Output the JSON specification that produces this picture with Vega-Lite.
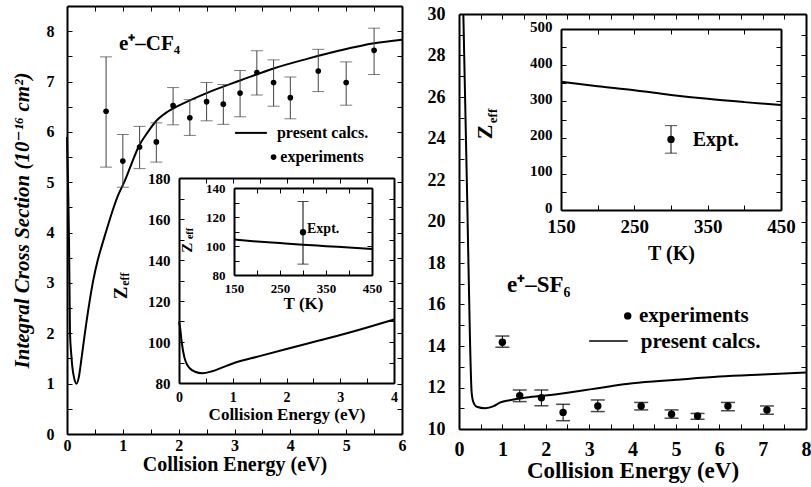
{
  "$schema": "https://vega.github.io/schema/vega-lite/v6.json",
  "width": 811,
  "height": 487,
  "autosize": {"type": "none"},
  "padding": 0,
  "background": "white",
  "config": {
    "view": {"stroke": null},
    "font": "Liberation Serif",
    "axis": {
      "grid": false, "domainColor": "black", "domainWidth": 2, "tickColor": "black", "tickWidth": 1, "tickSize": -5,
      "labelColor": "black", "titleColor": "black", "labelFont": "Liberation Serif", "titleFont": "Liberation Serif",
      "labelFontWeight": "bold", "titleFontWeight": "bold", "labelFlush": false, "labelOverlap": false,
      "minExtent": 0, "maxExtent": 400, "labelBound": false
    },
    "text": {"font": "Liberation Serif", "fontWeight": "bold", "color": "black"}
  },
  "datasets": {
    "cf4_curve": [
      {"E": 0.0, "sigma": 5.9}, {"E": 0.02, "sigma": 4.9}, {"E": 0.036, "sigma": 3.85}, {"E": 0.045, "sigma": 2.9},
      {"E": 0.054, "sigma": 2.0}, {"E": 0.075, "sigma": 1.6}, {"E": 0.095, "sigma": 1.34}, {"E": 0.13, "sigma": 1.1},
      {"E": 0.17, "sigma": 1.0}, {"E": 0.21, "sigma": 1.12}, {"E": 0.26, "sigma": 1.5}, {"E": 0.32, "sigma": 2.0},
      {"E": 0.4, "sigma": 2.6}, {"E": 0.47, "sigma": 3.05}, {"E": 0.55, "sigma": 3.45}, {"E": 0.6, "sigma": 3.65},
      {"E": 0.7, "sigma": 4.02}, {"E": 0.8, "sigma": 4.38}, {"E": 0.9, "sigma": 4.7}, {"E": 1.04, "sigma": 5.04},
      {"E": 1.15, "sigma": 5.35}, {"E": 1.28, "sigma": 5.7}, {"E": 1.45, "sigma": 6.0}, {"E": 1.61, "sigma": 6.23},
      {"E": 1.8, "sigma": 6.4}, {"E": 2.0, "sigma": 6.52}, {"E": 2.5, "sigma": 6.77}, {"E": 3.1, "sigma": 7.02},
      {"E": 3.7, "sigma": 7.26}, {"E": 4.3, "sigma": 7.45}, {"E": 4.9, "sigma": 7.62}, {"E": 5.5, "sigma": 7.76},
      {"E": 6.0, "sigma": 7.83}
    ],
    "cf4_exp": [
      {"E": 0.7, "sigma": 6.41, "lo": 5.3, "hi": 7.49},
      {"E": 1.0, "sigma": 5.42, "lo": 4.9, "hi": 5.95},
      {"E": 1.3, "sigma": 5.7, "lo": 5.27, "hi": 6.11},
      {"E": 1.6, "sigma": 5.8, "lo": 5.4, "hi": 6.18},
      {"E": 1.9, "sigma": 6.52, "lo": 6.14, "hi": 6.88},
      {"E": 2.2, "sigma": 6.28, "lo": 5.93, "hi": 6.64},
      {"E": 2.5, "sigma": 6.6, "lo": 6.22, "hi": 6.98},
      {"E": 2.8, "sigma": 6.55, "lo": 6.15, "hi": 6.94},
      {"E": 3.1, "sigma": 6.77, "lo": 6.3, "hi": 7.22},
      {"E": 3.4, "sigma": 7.18, "lo": 6.73, "hi": 7.61},
      {"E": 3.7, "sigma": 6.98, "lo": 6.51, "hi": 7.43},
      {"E": 4.0, "sigma": 6.68, "lo": 6.26, "hi": 7.09},
      {"E": 4.5, "sigma": 7.21, "lo": 6.8, "hi": 7.64},
      {"E": 5.0, "sigma": 6.98, "lo": 6.53, "hi": 7.39},
      {"E": 5.5, "sigma": 7.62, "lo": 7.14, "hi": 8.06}
    ],
    "cf4_zeff_E": [
      {"E": 0.0, "zeff": 110}, {"E": 0.02, "zeff": 107}, {"E": 0.05, "zeff": 100}, {"E": 0.1, "zeff": 92.5},
      {"E": 0.15, "zeff": 89}, {"E": 0.2, "zeff": 87.2}, {"E": 0.3, "zeff": 85.5}, {"E": 0.43, "zeff": 84.8},
      {"E": 0.6, "zeff": 85.6}, {"E": 0.8, "zeff": 87.5}, {"E": 1.0, "zeff": 89.5}, {"E": 1.5, "zeff": 93.1},
      {"E": 2.0, "zeff": 96.6}, {"E": 2.5, "zeff": 100}, {"E": 3.0, "zeff": 103.4}, {"E": 3.5, "zeff": 107.1},
      {"E": 4.0, "zeff": 111}
    ],
    "cf4_zeff_T": [
      {"T": 150, "zeff": 104.4}, {"T": 200, "zeff": 103.1}, {"T": 250, "zeff": 102}, {"T": 300, "zeff": 100.9},
      {"T": 350, "zeff": 99.9}, {"T": 400, "zeff": 98.9}, {"T": 450, "zeff": 97.9}
    ],
    "cf4_zeff_T_exp": [{"T": 300, "zeff": 109.5, "lo": 87.5, "hi": 130.7}],
    "sf6_curve": [
      {"E": 0.1, "sigma": 30}, {"E": 0.14, "sigma": 26}, {"E": 0.19, "sigma": 21}, {"E": 0.25, "sigma": 14.6},
      {"E": 0.29, "sigma": 11.8}, {"E": 0.33, "sigma": 11.3}, {"E": 0.41, "sigma": 11.07}, {"E": 0.6, "sigma": 11.0},
      {"E": 0.8, "sigma": 11.1}, {"E": 0.94, "sigma": 11.27}, {"E": 1.2, "sigma": 11.4}, {"E": 1.5, "sigma": 11.5},
      {"E": 1.94, "sigma": 11.6}, {"E": 2.5, "sigma": 11.75}, {"E": 3.02, "sigma": 11.91}, {"E": 3.5, "sigma": 12.06},
      {"E": 4.0, "sigma": 12.2}, {"E": 5.0, "sigma": 12.37}, {"E": 6.0, "sigma": 12.53}, {"E": 7.0, "sigma": 12.63},
      {"E": 8.0, "sigma": 12.72}
    ],
    "sf6_exp": [
      {"E": 1.0, "sigma": 14.18, "lo": 13.94, "hi": 14.48},
      {"E": 1.4, "sigma": 11.61, "lo": 11.32, "hi": 11.88},
      {"E": 1.9, "sigma": 11.51, "lo": 11.12, "hi": 11.88},
      {"E": 2.4, "sigma": 10.8, "lo": 10.4, "hi": 11.19},
      {"E": 3.2, "sigma": 11.11, "lo": 10.84, "hi": 11.4},
      {"E": 4.2, "sigma": 11.11, "lo": 10.92, "hi": 11.28},
      {"E": 4.9, "sigma": 10.71, "lo": 10.52, "hi": 10.92},
      {"E": 5.5, "sigma": 10.63, "lo": 10.47, "hi": 10.75},
      {"E": 6.2, "sigma": 11.11, "lo": 10.88, "hi": 11.28},
      {"E": 7.1, "sigma": 10.92, "lo": 10.71, "hi": 11.11}
    ],
    "sf6_zeff_T": [
      {"T": 150, "zeff": 354}, {"T": 200, "zeff": 342}, {"T": 250, "zeff": 331}, {"T": 300, "zeff": 318},
      {"T": 350, "zeff": 307}, {"T": 400, "zeff": 298}, {"T": 450, "zeff": 290}
    ],
    "sf6_zeff_T_exp": [{"T": 300, "zeff": 195, "lo": 157, "hi": 233}]
  },
  "resolve": {"scale": {"x": "independent", "y": "independent"}, "axis": {"x": "independent", "y": "independent"}},
  "layer": [
    {
      "resolve": {"axis": {"x": "independent", "y": "independent"}},
      "layer": [
        {
          "data": {"name": "cf4_curve"},
          "mark": {"type": "line", "interpolate": "monotone", "color": "black", "strokeWidth": 2},
          "encoding": {
            "x": {"field": "E", "type": "quantitative", "scale": {"domain": [0, 6], "range": [67, 402], "nice": false, "zero": false},
              "axis": {"orient": "bottom", "offset": -53, "values": [0,0.5,1,1.5,2,2.5,3,3.5,4,4.5,5,5.5,6], "labelExpr": "datum.value % 1 === 0 ? format(datum.value, 'd') : ''", "labelFontSize": 16, "labelPadding": 8, "title": "Collision Energy (eV)", "titleFontSize": 20, "titlePadding": 1}},
            "y": {"field": "sigma", "type": "quantitative", "scale": {"domain": [0, 8.5], "range": [434, 6], "nice": false, "zero": false},
              "axis": {"orient": "left", "offset": -67, "values": [0,0.5,1,1.5,2,2.5,3,3.5,4,4.5,5,5.5,6,6.5,7,7.5,8], "labelExpr": "datum.value % 1 === 0 ? format(datum.value, 'd') : ''", "labelFontSize": 16, "labelPadding": 18, "title": "Integral Cross Section (10⁻¹⁶ cm²)", "titleFont": "Liberation Serif, DejaVu Serif", "titleFontSize": 21, "titleFontStyle": "italic", "titlePadding": 14}}
          }
        },
        {
          "data": {"name": "cf4_exp"},
          "mark": {"type": "rule", "color": "#444", "strokeWidth": 1},
          "encoding": {
            "x": {"field": "E", "type": "quantitative", "scale": {"domain": [0, 6], "range": [67, 402], "nice": false, "zero": false},
              "axis": {"orient": "top", "offset": -6, "values": [0,0.5,1,1.5,2,2.5,3,3.5,4,4.5,5,5.5,6], "labels": false, "title": null}},
            "y": {"field": "lo", "type": "quantitative", "scale": {"domain": [0, 8.5], "range": [434, 6], "nice": false, "zero": false},
              "axis": {"orient": "right", "offset": -409, "values": [0,0.5,1,1.5,2,2.5,3,3.5,4,4.5,5,5.5,6,6.5,7,7.5,8], "labels": false, "title": null}},
            "y2": {"field": "hi"}
          }
        },
        {
          "data": {"name": "cf4_exp"},
          "mark": {"type": "tick", "orient": "horizontal", "size": 12, "thickness": 1, "color": "#444"},
          "encoding": {
            "x": {"field": "E", "type": "quantitative", "scale": {"domain": [0, 6], "range": [67, 402], "nice": false, "zero": false}, "axis": null},
            "y": {"field": "hi", "type": "quantitative", "scale": {"domain": [0, 8.5], "range": [434, 6], "nice": false, "zero": false}, "axis": null}
          }
        },
        {
          "data": {"name": "cf4_exp"},
          "mark": {"type": "tick", "orient": "horizontal", "size": 12, "thickness": 1, "color": "#444"},
          "encoding": {
            "x": {"field": "E", "type": "quantitative", "scale": {"domain": [0, 6], "range": [67, 402], "nice": false, "zero": false}, "axis": null},
            "y": {"field": "lo", "type": "quantitative", "scale": {"domain": [0, 8.5], "range": [434, 6], "nice": false, "zero": false}, "axis": null}
          }
        },
        {
          "data": {"name": "cf4_exp"},
          "mark": {"type": "point", "filled": true, "size": 32, "color": "black", "opacity": 1},
          "encoding": {
            "x": {"field": "E", "type": "quantitative", "scale": {"domain": [0, 6], "range": [67, 402], "nice": false, "zero": false}, "axis": null},
            "y": {"field": "sigma", "type": "quantitative", "scale": {"domain": [0, 8.5], "range": [434, 6], "nice": false, "zero": false}, "axis": null}
          }
        },
        {
          "data": {"values": [{}]},
          "mark": {"type": "text", "text": "e⁺–CF₄", "fontSize": 21, "align": "left", "baseline": "alphabetic"},
          "encoding": {
            "x": {"datum": 0.93, "type": "quantitative", "scale": {"domain": [0, 6], "range": [67, 402], "nice": false, "zero": false}, "axis": null},
            "y": {"datum": 7.63, "type": "quantitative", "scale": {"domain": [0, 8.5], "range": [434, 6], "nice": false, "zero": false}, "axis": null}
          }
        },
        {
          "data": {"values": [{}]},
          "mark": {"type": "rule", "color": "black", "strokeWidth": 2},
          "encoding": {
            "x": {"datum": 3.01, "type": "quantitative", "scale": {"domain": [0, 6], "range": [67, 402], "nice": false, "zero": false}, "axis": null},
            "x2": {"datum": 3.58},
            "y": {"datum": 5.98, "type": "quantitative", "scale": {"domain": [0, 8.5], "range": [434, 6], "nice": false, "zero": false}, "axis": null}
          }
        },
        {
          "data": {"values": [{}]},
          "mark": {"type": "text", "text": "present calcs.", "fontSize": 16, "align": "left", "baseline": "middle"},
          "encoding": {
            "x": {"datum": 3.76, "type": "quantitative", "scale": {"domain": [0, 6], "range": [67, 402], "nice": false, "zero": false}, "axis": null},
            "y": {"datum": 5.98, "type": "quantitative", "scale": {"domain": [0, 8.5], "range": [434, 6], "nice": false, "zero": false}, "axis": null}
          }
        },
        {
          "data": {"values": [{}]},
          "mark": {"type": "point", "filled": true, "size": 32, "color": "black", "opacity": 1},
          "encoding": {
            "x": {"datum": 3.7, "type": "quantitative", "scale": {"domain": [0, 6], "range": [67, 402], "nice": false, "zero": false}, "axis": null},
            "y": {"datum": 5.5, "type": "quantitative", "scale": {"domain": [0, 8.5], "range": [434, 6], "nice": false, "zero": false}, "axis": null}
          }
        },
        {
          "data": {"values": [{}]},
          "mark": {"type": "text", "text": "experiments", "fontSize": 16, "align": "left", "baseline": "middle"},
          "encoding": {
            "x": {"datum": 3.82, "type": "quantitative", "scale": {"domain": [0, 6], "range": [67, 402], "nice": false, "zero": false}, "axis": null},
            "y": {"datum": 5.5, "type": "quantitative", "scale": {"domain": [0, 8.5], "range": [434, 6], "nice": false, "zero": false}, "axis": null}
          }
        }
      ]
    },
    {
      "resolve": {"axis": {"x": "independent", "y": "independent"}},
      "layer": [
        {
          "data": {"name": "cf4_zeff_E"},
          "mark": {"type": "line", "interpolate": "monotone", "color": "black", "strokeWidth": 2},
          "encoding": {
            "x": {"field": "E", "type": "quantitative", "scale": {"domain": [0, 4], "range": [179, 394], "nice": false, "zero": false},
              "axis": {"orient": "bottom", "offset": -104, "values": [0,0.5,1,1.5,2,2.5,3,3.5,4], "labelExpr": "datum.value % 1 === 0 ? format(datum.value, 'd') : ''", "labelFontSize": 14, "labelPadding": 12, "title": "Collision Energy (eV)", "titleFontSize": 17, "titlePadding": 2}},
            "y": {"field": "zeff", "type": "quantitative", "scale": {"domain": [80, 180], "range": [383, 178], "nice": false, "zero": false},
              "axis": {"orient": "left", "offset": -179, "values": [80,90,100,110,120,130,140,150,160,170,180], "labelExpr": "(datum.value - 80) % 20 === 0 ? datum.label : ''", "labelFontSize": 15, "labelPadding": 14, "title": null}}
          }
        },
        {
          "data": {"name": "cf4_zeff_E"},
          "mark": {"type": "line", "opacity": 0},
          "encoding": {
            "x": {"field": "E", "type": "quantitative", "scale": {"domain": [0, 4], "range": [179, 394], "nice": false, "zero": false},
              "axis": {"orient": "top", "offset": -178, "values": [0,0.5,1,1.5,2,2.5,3,3.5,4], "labels": false, "title": null}},
            "y": {"field": "zeff", "type": "quantitative", "scale": {"domain": [80, 180], "range": [383, 178], "nice": false, "zero": false},
              "axis": {"orient": "right", "offset": -417, "values": [80,90,100,110,120,130,140,150,160,170,180], "labels": false, "title": null}}
          }
        },
        {
          "data": {"values": [{}]},
          "mark": {"type": "text", "text": "Z", "fontSize": 19, "angle": 270, "align": "center", "baseline": "middle"},
          "encoding": {
            "x": {"datum": -1.07, "type": "quantitative", "scale": {"domain": [0, 4], "range": [179, 394], "nice": false, "zero": false}, "axis": null},
            "y": {"datum": 123.9, "type": "quantitative", "scale": {"domain": [80, 180], "range": [383, 178], "nice": false, "zero": false}, "axis": null}
          }
        },
        {
          "data": {"values": [{}]},
          "mark": {"type": "text", "text": "eff", "fontSize": 12, "angle": 270, "align": "center", "baseline": "middle"},
          "encoding": {
            "x": {"datum": -1.005, "type": "quantitative", "scale": {"domain": [0, 4], "range": [179, 394], "nice": false, "zero": false}, "axis": null},
            "y": {"datum": 130.7, "type": "quantitative", "scale": {"domain": [80, 180], "range": [383, 178], "nice": false, "zero": false}, "axis": null}
          }
        }
      ]
    },
    {
      "resolve": {"axis": {"x": "independent", "y": "independent"}},
      "layer": [
        {
          "data": {"name": "cf4_zeff_T"},
          "mark": {"type": "line", "interpolate": "monotone", "color": "black", "strokeWidth": 2},
          "encoding": {
            "x": {"field": "T", "type": "quantitative", "scale": {"domain": [150, 450], "range": [234, 372], "nice": false, "zero": false},
              "axis": {"orient": "bottom", "offset": -212, "values": [150,200,250,300,350,400,450], "labelExpr": "(datum.value - 150) % 100 === 0 ? datum.label : ''", "labelFontSize": 13, "labelPadding": 12, "title": "T (K)", "titleFontSize": 17, "titlePadding": 0}},
            "y": {"field": "zeff", "type": "quantitative", "scale": {"domain": [80, 140], "range": [275, 188], "nice": false, "zero": false},
              "axis": {"orient": "left", "offset": -234, "values": [80,90,100,110,120,130,140], "labelExpr": "(datum.value - 80) % 20 === 0 ? datum.label : ''", "labelFontSize": 13, "labelPadding": 14, "title": null}}
          }
        },
        {
          "data": {"name": "cf4_zeff_T_exp"},
          "mark": {"type": "rule", "color": "black", "strokeWidth": 1},
          "encoding": {
            "x": {"field": "T", "type": "quantitative", "scale": {"domain": [150, 450], "range": [234, 372], "nice": false, "zero": false},
              "axis": {"orient": "top", "offset": -188, "values": [150,200,250,300,350,400,450], "labels": false, "title": null}},
            "y": {"field": "lo", "type": "quantitative", "scale": {"domain": [80, 140], "range": [275, 188], "nice": false, "zero": false},
              "axis": {"orient": "right", "offset": -439, "values": [80,90,100,110,120,130,140], "labels": false, "title": null}},
            "y2": {"field": "hi"}
          }
        },
        {
          "data": {"name": "cf4_zeff_T_exp"},
          "mark": {"type": "tick", "orient": "horizontal", "size": 11, "thickness": 1, "color": "black"},
          "encoding": {
            "x": {"field": "T", "type": "quantitative", "scale": {"domain": [150, 450], "range": [234, 372], "nice": false, "zero": false}, "axis": null},
            "y": {"field": "hi", "type": "quantitative", "scale": {"domain": [80, 140], "range": [275, 188], "nice": false, "zero": false}, "axis": null}
          }
        },
        {
          "data": {"name": "cf4_zeff_T_exp"},
          "mark": {"type": "tick", "orient": "horizontal", "size": 11, "thickness": 1, "color": "black"},
          "encoding": {
            "x": {"field": "T", "type": "quantitative", "scale": {"domain": [150, 450], "range": [234, 372], "nice": false, "zero": false}, "axis": null},
            "y": {"field": "lo", "type": "quantitative", "scale": {"domain": [80, 140], "range": [275, 188], "nice": false, "zero": false}, "axis": null}
          }
        },
        {
          "data": {"name": "cf4_zeff_T_exp"},
          "mark": {"type": "point", "filled": true, "size": 40, "color": "black", "opacity": 1},
          "encoding": {
            "x": {"field": "T", "type": "quantitative", "scale": {"domain": [150, 450], "range": [234, 372], "nice": false, "zero": false}, "axis": null},
            "y": {"field": "zeff", "type": "quantitative", "scale": {"domain": [80, 140], "range": [275, 188], "nice": false, "zero": false}, "axis": null}
          }
        },
        {
          "data": {"values": [{}]},
          "mark": {"type": "text", "text": "Expt.", "fontSize": 14, "align": "left", "baseline": "middle"},
          "encoding": {
            "x": {"datum": 308.7, "type": "quantitative", "scale": {"domain": [150, 450], "range": [234, 372], "nice": false, "zero": false}, "axis": null},
            "y": {"datum": 111.4, "type": "quantitative", "scale": {"domain": [80, 140], "range": [275, 188], "nice": false, "zero": false}, "axis": null}
          }
        },
        {
          "data": {"values": [{}]},
          "mark": {"type": "text", "text": "Z", "fontSize": 15, "angle": 270, "align": "center", "baseline": "middle"},
          "encoding": {
            "x": {"datum": 48.9, "type": "quantitative", "scale": {"domain": [150, 450], "range": [234, 372], "nice": false, "zero": false}, "axis": null},
            "y": {"datum": 98.8, "type": "quantitative", "scale": {"domain": [80, 140], "range": [275, 188], "nice": false, "zero": false}, "axis": null}
          }
        },
        {
          "data": {"values": [{}]},
          "mark": {"type": "text", "text": "eff", "fontSize": 10, "angle": 270, "align": "center", "baseline": "middle"},
          "encoding": {
            "x": {"datum": 54.3, "type": "quantitative", "scale": {"domain": [150, 450], "range": [234, 372], "nice": false, "zero": false}, "axis": null},
            "y": {"datum": 108.6, "type": "quantitative", "scale": {"domain": [80, 140], "range": [275, 188], "nice": false, "zero": false}, "axis": null}
          }
        }
      ]
    },
    {
      "resolve": {"axis": {"x": "independent", "y": "independent"}},
      "layer": [
        {
          "data": {"name": "sf6_curve"},
          "mark": {"type": "line", "interpolate": "monotone", "color": "black", "strokeWidth": 2},
          "encoding": {
            "x": {"field": "E", "type": "quantitative", "scale": {"domain": [0, 8], "range": [459, 806], "nice": false, "zero": false},
              "axis": {"orient": "bottom", "offset": -58, "values": [0,0.5,1,1.5,2,2.5,3,3.5,4,4.5,5,5.5,6,6.5,7,7.5,8], "labelExpr": "datum.value % 1 === 0 ? format(datum.value, 'd') : ''", "labelFontSize": 20, "labelPadding": 15, "title": "Collision Energy (eV)", "titleFontSize": 23, "titlePadding": 0}},
            "y": {"field": "sigma", "type": "quantitative", "scale": {"domain": [10, 30], "range": [429, 14], "nice": false, "zero": false},
              "axis": {"orient": "left", "offset": -459, "values": [10,11,12,13,14,15,16,17,18,19,20,21,22,23,24,25,26,27,28,29,30], "labelExpr": "datum.value % 2 === 0 ? datum.label : ''", "labelFontSize": 18, "labelPadding": 19, "title": null}}
          }
        },
        {
          "data": {"name": "sf6_exp"},
          "mark": {"type": "rule", "color": "black", "strokeWidth": 1},
          "encoding": {
            "x": {"field": "E", "type": "quantitative", "scale": {"domain": [0, 8], "range": [459, 806], "nice": false, "zero": false},
              "axis": {"orient": "top", "offset": -14, "values": [0,0.5,1,1.5,2,2.5,3,3.5,4,4.5,5,5.5,6,6.5,7,7.5,8], "labels": false, "title": null}},
            "y": {"field": "lo", "type": "quantitative", "scale": {"domain": [10, 30], "range": [429, 14], "nice": false, "zero": false},
              "axis": {"orient": "right", "offset": -5, "values": [10,11,12,13,14,15,16,17,18,19,20,21,22,23,24,25,26,27,28,29,30], "labels": false, "title": null}},
            "y2": {"field": "hi"}
          }
        },
        {
          "data": {"name": "sf6_exp"},
          "mark": {"type": "tick", "orient": "horizontal", "size": 14, "thickness": 1.5, "color": "black"},
          "encoding": {
            "x": {"field": "E", "type": "quantitative", "scale": {"domain": [0, 8], "range": [459, 806], "nice": false, "zero": false}, "axis": null},
            "y": {"field": "hi", "type": "quantitative", "scale": {"domain": [10, 30], "range": [429, 14], "nice": false, "zero": false}, "axis": null}
          }
        },
        {
          "data": {"name": "sf6_exp"},
          "mark": {"type": "tick", "orient": "horizontal", "size": 14, "thickness": 1.5, "color": "black"},
          "encoding": {
            "x": {"field": "E", "type": "quantitative", "scale": {"domain": [0, 8], "range": [459, 806], "nice": false, "zero": false}, "axis": null},
            "y": {"field": "lo", "type": "quantitative", "scale": {"domain": [10, 30], "range": [429, 14], "nice": false, "zero": false}, "axis": null}
          }
        },
        {
          "data": {"name": "sf6_exp"},
          "mark": {"type": "point", "filled": true, "size": 55, "color": "black", "opacity": 1},
          "encoding": {
            "x": {"field": "E", "type": "quantitative", "scale": {"domain": [0, 8], "range": [459, 806], "nice": false, "zero": false}, "axis": null},
            "y": {"field": "sigma", "type": "quantitative", "scale": {"domain": [10, 30], "range": [429, 14], "nice": false, "zero": false}, "axis": null}
          }
        },
        {
          "data": {"values": [{}]},
          "mark": {"type": "text", "text": "e⁺–SF₆", "fontSize": 23, "align": "left", "baseline": "alphabetic"},
          "encoding": {
            "x": {"datum": 1.106, "type": "quantitative", "scale": {"domain": [0, 8], "range": [459, 806], "nice": false, "zero": false}, "axis": null},
            "y": {"datum": 16.62, "type": "quantitative", "scale": {"domain": [10, 30], "range": [429, 14], "nice": false, "zero": false}, "axis": null}
          }
        },
        {
          "data": {"values": [{}]},
          "mark": {"type": "point", "filled": true, "size": 55, "color": "black", "opacity": 1},
          "encoding": {
            "x": {"datum": 3.89, "type": "quantitative", "scale": {"domain": [0, 8], "range": [459, 806], "nice": false, "zero": false}, "axis": null},
            "y": {"datum": 15.45, "type": "quantitative", "scale": {"domain": [10, 30], "range": [429, 14], "nice": false, "zero": false}, "axis": null}
          }
        },
        {
          "data": {"values": [{}]},
          "mark": {"type": "text", "text": "experiments", "fontSize": 21, "align": "left", "baseline": "middle"},
          "encoding": {
            "x": {"datum": 4.15, "type": "quantitative", "scale": {"domain": [0, 8], "range": [459, 806], "nice": false, "zero": false}, "axis": null},
            "y": {"datum": 15.45, "type": "quantitative", "scale": {"domain": [10, 30], "range": [429, 14], "nice": false, "zero": false}, "axis": null}
          }
        },
        {
          "data": {"values": [{}]},
          "mark": {"type": "rule", "color": "black", "strokeWidth": 1.5},
          "encoding": {
            "x": {"datum": 3.0, "type": "quantitative", "scale": {"domain": [0, 8], "range": [459, 806], "nice": false, "zero": false}, "axis": null},
            "x2": {"datum": 3.89},
            "y": {"datum": 14.24, "type": "quantitative", "scale": {"domain": [10, 30], "range": [429, 14], "nice": false, "zero": false}, "axis": null}
          }
        },
        {
          "data": {"values": [{}]},
          "mark": {"type": "text", "text": "present calcs.", "fontSize": 21, "align": "left", "baseline": "middle"},
          "encoding": {
            "x": {"datum": 4.19, "type": "quantitative", "scale": {"domain": [0, 8], "range": [459, 806], "nice": false, "zero": false}, "axis": null},
            "y": {"datum": 14.21, "type": "quantitative", "scale": {"domain": [10, 30], "range": [429, 14], "nice": false, "zero": false}, "axis": null}
          }
        }
      ]
    },
    {
      "resolve": {"axis": {"x": "independent", "y": "independent"}},
      "layer": [
        {
          "data": {"name": "sf6_zeff_T"},
          "mark": {"type": "line", "interpolate": "monotone", "color": "black", "strokeWidth": 2},
          "encoding": {
            "x": {"field": "T", "type": "quantitative", "scale": {"domain": [150, 450], "range": [561, 781], "nice": false, "zero": false},
              "axis": {"orient": "bottom", "offset": -277, "values": [150,200,250,300,350,400,450], "labelExpr": "(datum.value - 150) % 100 === 0 ? datum.label : ''", "labelFontSize": 19, "labelPadding": 12, "title": "T (K)", "titleFontSize": 20, "titlePadding": 7}},
            "y": {"field": "zeff", "type": "quantitative", "scale": {"domain": [0, 500], "range": [210, 29], "nice": false, "zero": false},
              "axis": {"orient": "left", "offset": -561, "values": [0,50,100,150,200,250,300,350,400,450,500], "labelExpr": "datum.value % 100 === 0 ? datum.label : ''", "labelFontSize": 15, "labelPadding": 14, "labelOffset": -3, "title": null}}
          }
        },
        {
          "data": {"name": "sf6_zeff_T_exp"},
          "mark": {"type": "rule", "color": "black", "strokeWidth": 1},
          "encoding": {
            "x": {"field": "T", "type": "quantitative", "scale": {"domain": [150, 450], "range": [561, 781], "nice": false, "zero": false},
              "axis": {"orient": "top", "offset": -29, "values": [150,200,250,300,350,400,450], "labels": false, "title": null}},
            "y": {"field": "lo", "type": "quantitative", "scale": {"domain": [0, 500], "range": [210, 29], "nice": false, "zero": false},
              "axis": {"orient": "right", "offset": -30, "values": [0,50,100,150,200,250,300,350,400,450,500], "labels": false, "title": null}},
            "y2": {"field": "hi"}
          }
        },
        {
          "data": {"name": "sf6_zeff_T_exp"},
          "mark": {"type": "tick", "orient": "horizontal", "size": 12, "thickness": 1, "color": "black"},
          "encoding": {
            "x": {"field": "T", "type": "quantitative", "scale": {"domain": [150, 450], "range": [561, 781], "nice": false, "zero": false}, "axis": null},
            "y": {"field": "hi", "type": "quantitative", "scale": {"domain": [0, 500], "range": [210, 29], "nice": false, "zero": false}, "axis": null}
          }
        },
        {
          "data": {"name": "sf6_zeff_T_exp"},
          "mark": {"type": "tick", "orient": "horizontal", "size": 12, "thickness": 1, "color": "black"},
          "encoding": {
            "x": {"field": "T", "type": "quantitative", "scale": {"domain": [150, 450], "range": [561, 781], "nice": false, "zero": false}, "axis": null},
            "y": {"field": "lo", "type": "quantitative", "scale": {"domain": [0, 500], "range": [210, 29], "nice": false, "zero": false}, "axis": null}
          }
        },
        {
          "data": {"name": "sf6_zeff_T_exp"},
          "mark": {"type": "point", "filled": true, "size": 55, "color": "black", "opacity": 1},
          "encoding": {
            "x": {"field": "T", "type": "quantitative", "scale": {"domain": [150, 450], "range": [561, 781], "nice": false, "zero": false}, "axis": null},
            "y": {"field": "zeff", "type": "quantitative", "scale": {"domain": [0, 500], "range": [210, 29], "nice": false, "zero": false}, "axis": null}
          }
        },
        {
          "data": {"values": [{}]},
          "mark": {"type": "text", "text": "Expt.", "fontSize": 20, "align": "left", "baseline": "middle"},
          "encoding": {
            "x": {"datum": 329.6, "type": "quantitative", "scale": {"domain": [150, 450], "range": [561, 781], "nice": false, "zero": false}, "axis": null},
            "y": {"datum": 193.4, "type": "quantitative", "scale": {"domain": [0, 500], "range": [210, 29], "nice": false, "zero": false}, "axis": null}
          }
        },
        {
          "data": {"values": [{}]},
          "mark": {"type": "text", "text": "Z", "fontSize": 22, "angle": 270, "align": "center", "baseline": "middle"},
          "encoding": {
            "x": {"datum": 46.4, "type": "quantitative", "scale": {"domain": [150, 450], "range": [561, 781], "nice": false, "zero": false}, "axis": null},
            "y": {"datum": 215.5, "type": "quantitative", "scale": {"domain": [0, 500], "range": [210, 29], "nice": false, "zero": false}, "axis": null}
          }
        },
        {
          "data": {"values": [{}]},
          "mark": {"type": "text", "text": "eff", "fontSize": 13, "angle": 270, "align": "center", "baseline": "middle"},
          "encoding": {
            "x": {"datum": 57.3, "type": "quantitative", "scale": {"domain": [150, 450], "range": [561, 781], "nice": false, "zero": false}, "axis": null},
            "y": {"datum": 259.7, "type": "quantitative", "scale": {"domain": [0, 500], "range": [210, 29], "nice": false, "zero": false}, "axis": null}
          }
        }
      ]
    }
  ]
}
